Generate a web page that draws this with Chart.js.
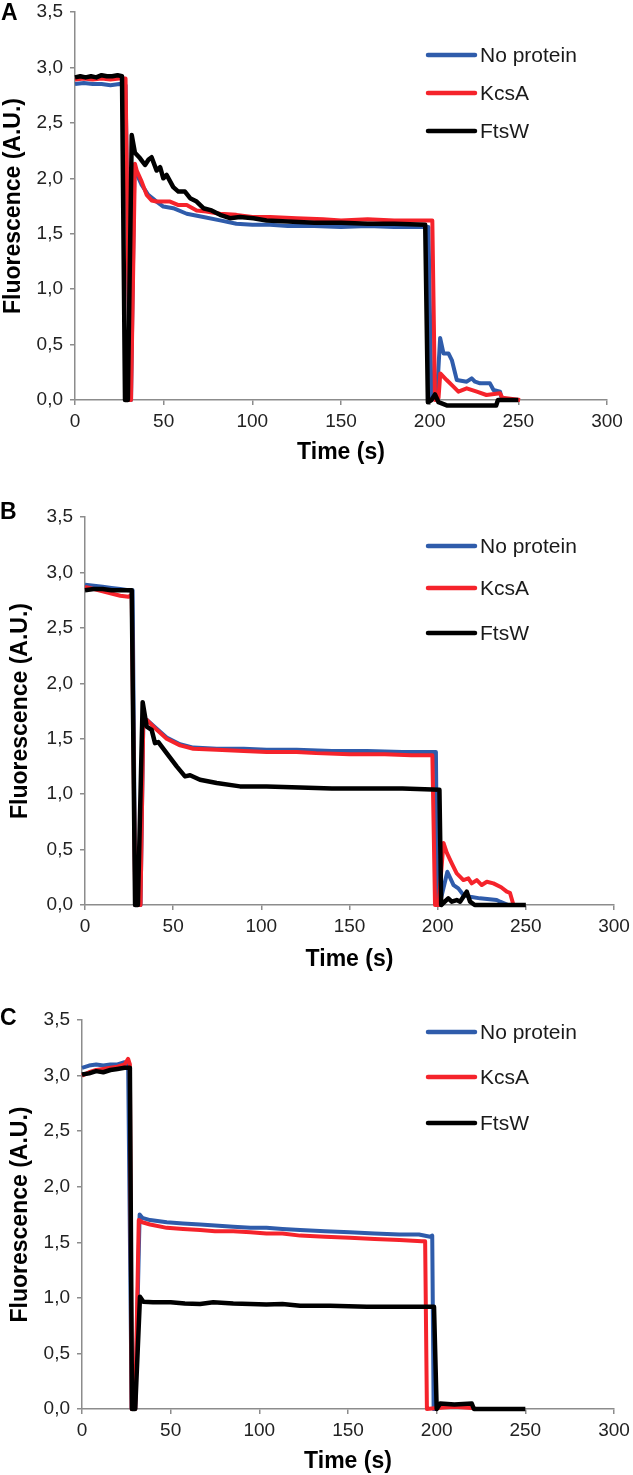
<!DOCTYPE html>
<html><head><meta charset="utf-8">
<script src="https://cdn.jsdelivr.net/npm/chart.js@4.4.1/dist/chart.umd.min.js"></script>
<style>
html,body{margin:0;padding:0;background:#fff;width:633px;height:1475px;overflow:hidden;position:relative}
canvas{position:absolute;left:0}
</style></head><body>
<canvas id="cA" width="633" height="466" style="top:0px"></canvas>
<canvas id="cB" width="633" height="505" style="top:468px"></canvas>
<canvas id="cC" width="633" height="500" style="top:975px"></canvas>
<script>
// ---- shared labels / ticks ----
const seriesNames = ['No protein', 'KcsA', 'FtsW'];
const seriesColors = ['#2F5CAB', '#F5232B', '#000000'];
const xTickLabels = ['0', '50', '100', '150', '200', '250', '300'];
const yTickLabels = ['0,0', '0,5', '1,0', '1,5', '2,0', '2,5', '3,0', '3,5'];
const xTitle = 'Time (s)';
const yTitle = 'Fluorescence (A.U.)';

// ---- Panel A : [time (s), fluorescence] ----
const A_noProtein = [[0,2.85],[5,2.86],[10,2.85],[15,2.85],[20,2.84],[25,2.85],[28.5,2.84],[31,0],[31.6,0],[33.5,2.1],[34.8,2.04],[37.6,1.94],[41.3,1.85],[46,1.79],[49.8,1.745],[55.4,1.73],[63,1.68],[72.4,1.65],[81.8,1.62],[91,1.59],[100,1.58],[110,1.58],[120,1.57],[135,1.57],[150,1.56],[165,1.57],[180,1.56],[197,1.56],[199.3,1.56],[201,0.02],[204,0.02],[205.9,0.56],[207.8,0.42],[210.6,0.42],[212.5,0.36],[215.3,0.18],[220.9,0.165],[223.7,0.195],[225.6,0.165],[228.4,0.15],[234,0.15],[236,0.09],[239.7,0.075],[240.5,0.02]];
const A_kcsA = [[0,2.89],[5,2.9],[10,2.89],[15,2.9],[20,2.89],[25,2.9],[28.5,2.9],[31,0],[31.6,0],[33.8,2.13],[34.8,2.07],[37.6,1.97],[40.4,1.85],[43.2,1.8],[46,1.79],[49.8,1.79],[53.6,1.79],[58,1.76],[63,1.76],[68.6,1.71],[74,1.7],[81.8,1.68],[91,1.67],[100,1.65],[110,1.65],[125,1.64],[140,1.63],[150,1.62],[165,1.63],[180,1.62],[195,1.62],[201.5,1.62],[203,0],[205,0.02],[206,0.24],[209.6,0.18],[213.4,0.12],[216.2,0.075],[220.9,0.105],[226.6,0.075],[232,0.045],[239.7,0.06],[241,0.02],[251,0]];
const A_ftsW = [[0,2.91],[3,2.92],[6,2.91],[9,2.92],[12,2.91],[15,2.93],[18,2.92],[21,2.92],[24,2.93],[26.5,2.92],[28.2,0],[29.8,0],[32,2.39],[33.8,2.23],[36.7,2.18],[39.5,2.12],[41.5,2.17],[43.2,2.19],[46,2.07],[48,2.1],[49.8,2.0],[51.7,2.03],[55.4,1.92],[58.3,1.88],[62,1.88],[64.9,1.82],[68.6,1.79],[72.4,1.73],[77,1.71],[81.8,1.67],[87.4,1.64],[93,1.65],[100.6,1.64],[108,1.62],[120,1.61],[135,1.6],[150,1.6],[165,1.59],[180,1.59],[197.5,1.58],[199,-0.02],[201,0],[203,0.05],[205,-0.02],[210,-0.05],[237.5,-0.05],[238.5,0],[250,0]];

// ---- Panel B ----
const B_noProtein = [[0,2.89],[5,2.88],[10,2.87],[15,2.86],[20,2.85],[24.6,2.84],[27,2.84],[28.5,0],[31.5,0],[33,1.6],[35,1.67],[40.7,1.59],[46.3,1.51],[53.9,1.45],[61.4,1.42],[74.7,1.41],[90,1.41],[103,1.4],[120,1.4],[140,1.39],[160,1.39],[180,1.38],[199,1.38],[199.8,0],[201,0],[205.5,0.3],[209,0.18],[211.7,0.15],[214.6,0.09],[218.4,0.075],[224,0.06],[233.5,0.045],[235.4,0.03],[240,0]];
const B_kcsA = [[0,2.87],[5,2.85],[10,2.83],[15,2.81],[20,2.79],[24.6,2.78],[26.5,2.8],[28.5,0],[31.5,0],[33,1.6],[35,1.67],[40.7,1.58],[46.3,1.5],[53.9,1.44],[61.4,1.41],[74.7,1.4],[90,1.39],[103,1.38],[120,1.38],[131,1.37],[150,1.36],[170,1.36],[185,1.35],[197,1.35],[198.5,0],[200.5,0],[203.3,0.56],[205.2,0.47],[208,0.375],[210.8,0.285],[214.6,0.225],[217.4,0.24],[219.3,0.195],[222.2,0.225],[225,0.18],[227.9,0.21],[231.6,0.195],[236,0.16],[239.2,0.12],[241,0.11],[243,0]];
const B_ftsW = [[0,2.84],[5,2.85],[10,2.85],[15,2.84],[20,2.84],[26.5,2.84],[28.4,0],[30,0],[32.7,1.83],[35,1.61],[37.8,1.58],[39.7,1.46],[41.6,1.47],[46.3,1.37],[52,1.25],[56.7,1.16],[59.6,1.17],[65.2,1.13],[74.7,1.1],[87.9,1.07],[103,1.07],[122,1.06],[140,1.05],[160,1.05],[180,1.05],[201,1.04],[202,0],[206,0.06],[208,0.03],[210.8,0.045],[212.7,0.03],[216.5,0.12],[218.4,0.03],[221,0],[250,0]];

// ---- Panel C ----
const C_noProtein = [[0,3.07],[4,3.09],[8,3.1],[12,3.09],[16,3.1],[20,3.1],[24,3.12],[26,3.12],[28,0],[30,0],[32.5,1.75],[34,1.72],[38.4,1.7],[47.8,1.68],[57,1.67],[66.6,1.66],[75,1.65],[85.3,1.64],[95,1.63],[104,1.63],[113,1.62],[123,1.61],[137,1.6],[151,1.59],[165,1.58],[179,1.57],[190,1.57],[196.3,1.55],[197.5,1.56],[198.3,0],[200,0]];
const C_kcsA = [[0,3.0],[4,3.03],[8,3.05],[12,3.06],[16,3.07],[20,3.08],[24,3.1],[26,3.15],[27,3.1],[28,0],[30,0],[32,1.7],[34,1.68],[38.4,1.66],[47.8,1.63],[57,1.62],[66.6,1.61],[75,1.6],[85.3,1.6],[95,1.59],[104,1.58],[113,1.58],[123,1.56],[137,1.55],[151,1.54],[165,1.53],[179,1.52],[191.6,1.51],[193.5,1.51],[194.5,0],[200,0.01],[210,0.02],[220,0.01],[222,0]];
const C_ftsW = [[0,3.01],[4,3.02],[8,3.04],[12,3.03],[16,3.05],[20,3.06],[24,3.07],[27,3.07],[28.2,0],[30,0],[32.7,1.01],[34.6,0.965],[40,0.96],[50,0.96],[58,0.95],[66.6,0.945],[74,0.96],[85.3,0.95],[95,0.945],[104,0.94],[113,0.945],[123,0.93],[140,0.93],[160.6,0.92],[180,0.92],[196.3,0.92],[198.5,0.92],[200,0],[202,0.05],[210,0.04],[219.8,0.05],[221,0],[250,0]];

// ---- rendering ----
const FONT = '"Liberation Sans", Arial, Helvetica, sans-serif';
Chart.defaults.font.family = FONT;
Chart.defaults.color = '#222';

const panelDecor = {
  id: 'panelDecor',
  afterDraw(chart, args, o) {
    const ctx = chart.ctx;
    ctx.save();
    ctx.textBaseline = 'middle';
    ctx.textAlign = 'left';
    ctx.fillStyle = '#000';
    ctx.font = 'bold 23px ' + FONT;
    ctx.fillText(o.panel, o.panelX, o.panelY);
    ctx.font = '21px ' + FONT;
    chart.data.datasets.forEach((ds, i) => {
      const y = o.rows[i];
      ctx.strokeStyle = ds.borderColor;
      ctx.lineWidth = 4.5;
      ctx.lineCap = 'round';
      ctx.beginPath(); ctx.moveTo(o.x0, y); ctx.lineTo(o.x1, y); ctx.stroke();
      ctx.fillStyle = '#1a1a1a';
      ctx.fillText(ds.label, o.tx, y + 1);
    });
    ctx.restore();
  }
};

function makePanel(id, series, cfg) {
  const datasets = series.map((s, i) => ({
    label: seriesNames[i],
    data: s.map(([x, y]) => ({x, y})),
    borderColor: seriesColors[i],
    backgroundColor: seriesColors[i],
    borderWidth: i === 2 ? 4.5 : 4,
    pointRadius: 0,
    tension: 0,
    fill: false,
    clip: false,
    order: 2 - i,
    borderJoinStyle: 'round'
  }));
  const gridCfg = { drawOnChartArea: false, color: '#8c8c8c', lineWidth: 1.5, tickLength: 5, drawTicks: true };
  const borderCfg = { display: true, color: '#8c8c8c', width: 1.5 };
  return new Chart(document.getElementById(id), {
    type: 'line',
    data: { datasets },
    options: {
      responsive: false,
      animation: false,
      devicePixelRatio: 1,
      layout: { padding: cfg.padding },
      plugins: {
        legend: { display: false },
        tooltip: { enabled: false },
        panelDecor: cfg.decor
      },
      scales: {
        x: {
          type: 'linear', min: 0, max: 300,
          grid: gridCfg, border: borderCfg,
          ticks: { stepSize: 50, autoSkip: false, maxRotation: 0, padding: 5,
                   font: { size: 19 }, color: '#222',
                   callback: (v, i) => xTickLabels[i] },
          title: { display: true, text: xTitle, font: { size: 23, weight: 'bold' }, color: '#000', padding: 0 },
          afterFit: (s) => { s.height = cfg.xH; s.paddingLeft = 0; s.paddingRight = 0; }
        },
        y: {
          type: 'linear', min: 0, max: 3.5,
          grid: gridCfg, border: borderCfg,
          ticks: { stepSize: 0.5, padding: 7, font: { size: 19 }, color: '#222',
                   callback: (v, i) => yTickLabels[i] },
          title: { display: true, text: yTitle, font: { size: 23, weight: 'bold' }, color: '#000', padding: 0 },
          afterFit: (s) => { s.width = cfg.yW; s.paddingTop = 0; s.paddingBottom = 0; }
        }
      }
    },
    plugins: [panelDecor]
  });
}

makePanel('cA', [A_noProtein, A_kcsA, A_ftsW], {
  padding: { top: 12, right: 26, left: 0, bottom: 0 }, xH: 66, yW: 75,
  decor: { panel: 'A', panelX: 1, panelY: 14, rows: [55, 93, 131], x0: 428, x1: 475, tx: 480 }
});
makePanel('cB', [B_noProtein, B_kcsA, B_ftsW], {
  padding: { top: 49, right: 19, left: 7, bottom: 0 }, xH: 68, yW: 78,
  decor: { panel: 'B', panelX: 0, panelY: 45, rows: [78, 120, 165], x0: 428, x1: 475, tx: 480 }
});
makePanel('cC', [C_noProtein, C_kcsA, C_ftsW], {
  padding: { top: 45, right: 19, left: 7, bottom: 0 }, xH: 66, yW: 75,
  decor: { panel: 'C', panelX: 0, panelY: 44, rows: [57, 102, 148], x0: 428, x1: 475, tx: 480 }
});
</script>
</body></html>
